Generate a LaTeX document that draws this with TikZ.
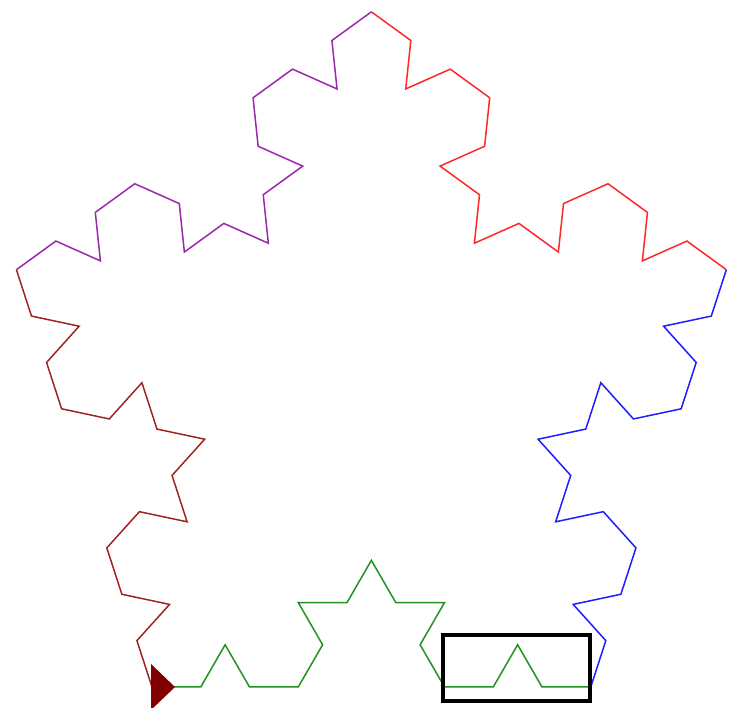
\documentclass[tikz,border=0pt]{standalone}
\begin{document}
\begin{tikzpicture}[x=1pt,y=1pt,
  koch/.style={line width=1.5pt,line join=miter},
  frame/.style={draw=black,line width=4pt},
  turtle/.style={fill=red!50!black,draw=none}]
\useasboundingbox (0,0) rectangle (735,708);
\def\L{48.75}
\definecolor{kgreen}{RGB}{34,145,34}
\definecolor{kblue}{RGB}{30,30,255}
\definecolor{kred}{RGB}{255,40,40}
\definecolor{kpurple}{RGB}{155,40,170}
\definecolor{kbrown}{RGB}{160,35,35}
\coordinate (c0) at (152,21);
\draw[koch,kgreen] (c0) \foreach \a in {0,60,-60,0,60,120,0,60,-60,0,-120,-60,0,60,-60,0}{ -- ++({\a}:\L)} coordinate (c1);
\draw[koch,kblue] (c1) \foreach \a in {0,60,-60,0,60,120,0,60,-60,0,-120,-60,0,60,-60,0}{ -- ++({\a+72}:\L)} coordinate (c2);
\draw[koch,kred] (c2) \foreach \a in {0,60,-60,0,60,120,0,60,-60,0,-120,-60,0,60,-60,0}{ -- ++({\a+144}:\L)} coordinate (c3);
\draw[koch,kpurple] (c3) \foreach \a in {0,60,-60,0,60,120,0,60,-60,0,-120,-60,0,60,-60,0}{ -- ++({\a+216}:\L)} coordinate (c4);
\draw[koch,kbrown] (c4) \foreach \a in {0,60,-60,0,60,120,0,60,-60,0,-120,-60,0,60,-60,0}{ -- ++({\a+288}:\L)} coordinate (c5);
\fill[turtle] (151,44) -- (175,21) -- (151,-2) -- cycle;
\draw[frame] (443,7) rectangle (590,73);
\end{tikzpicture}
\end{document}
